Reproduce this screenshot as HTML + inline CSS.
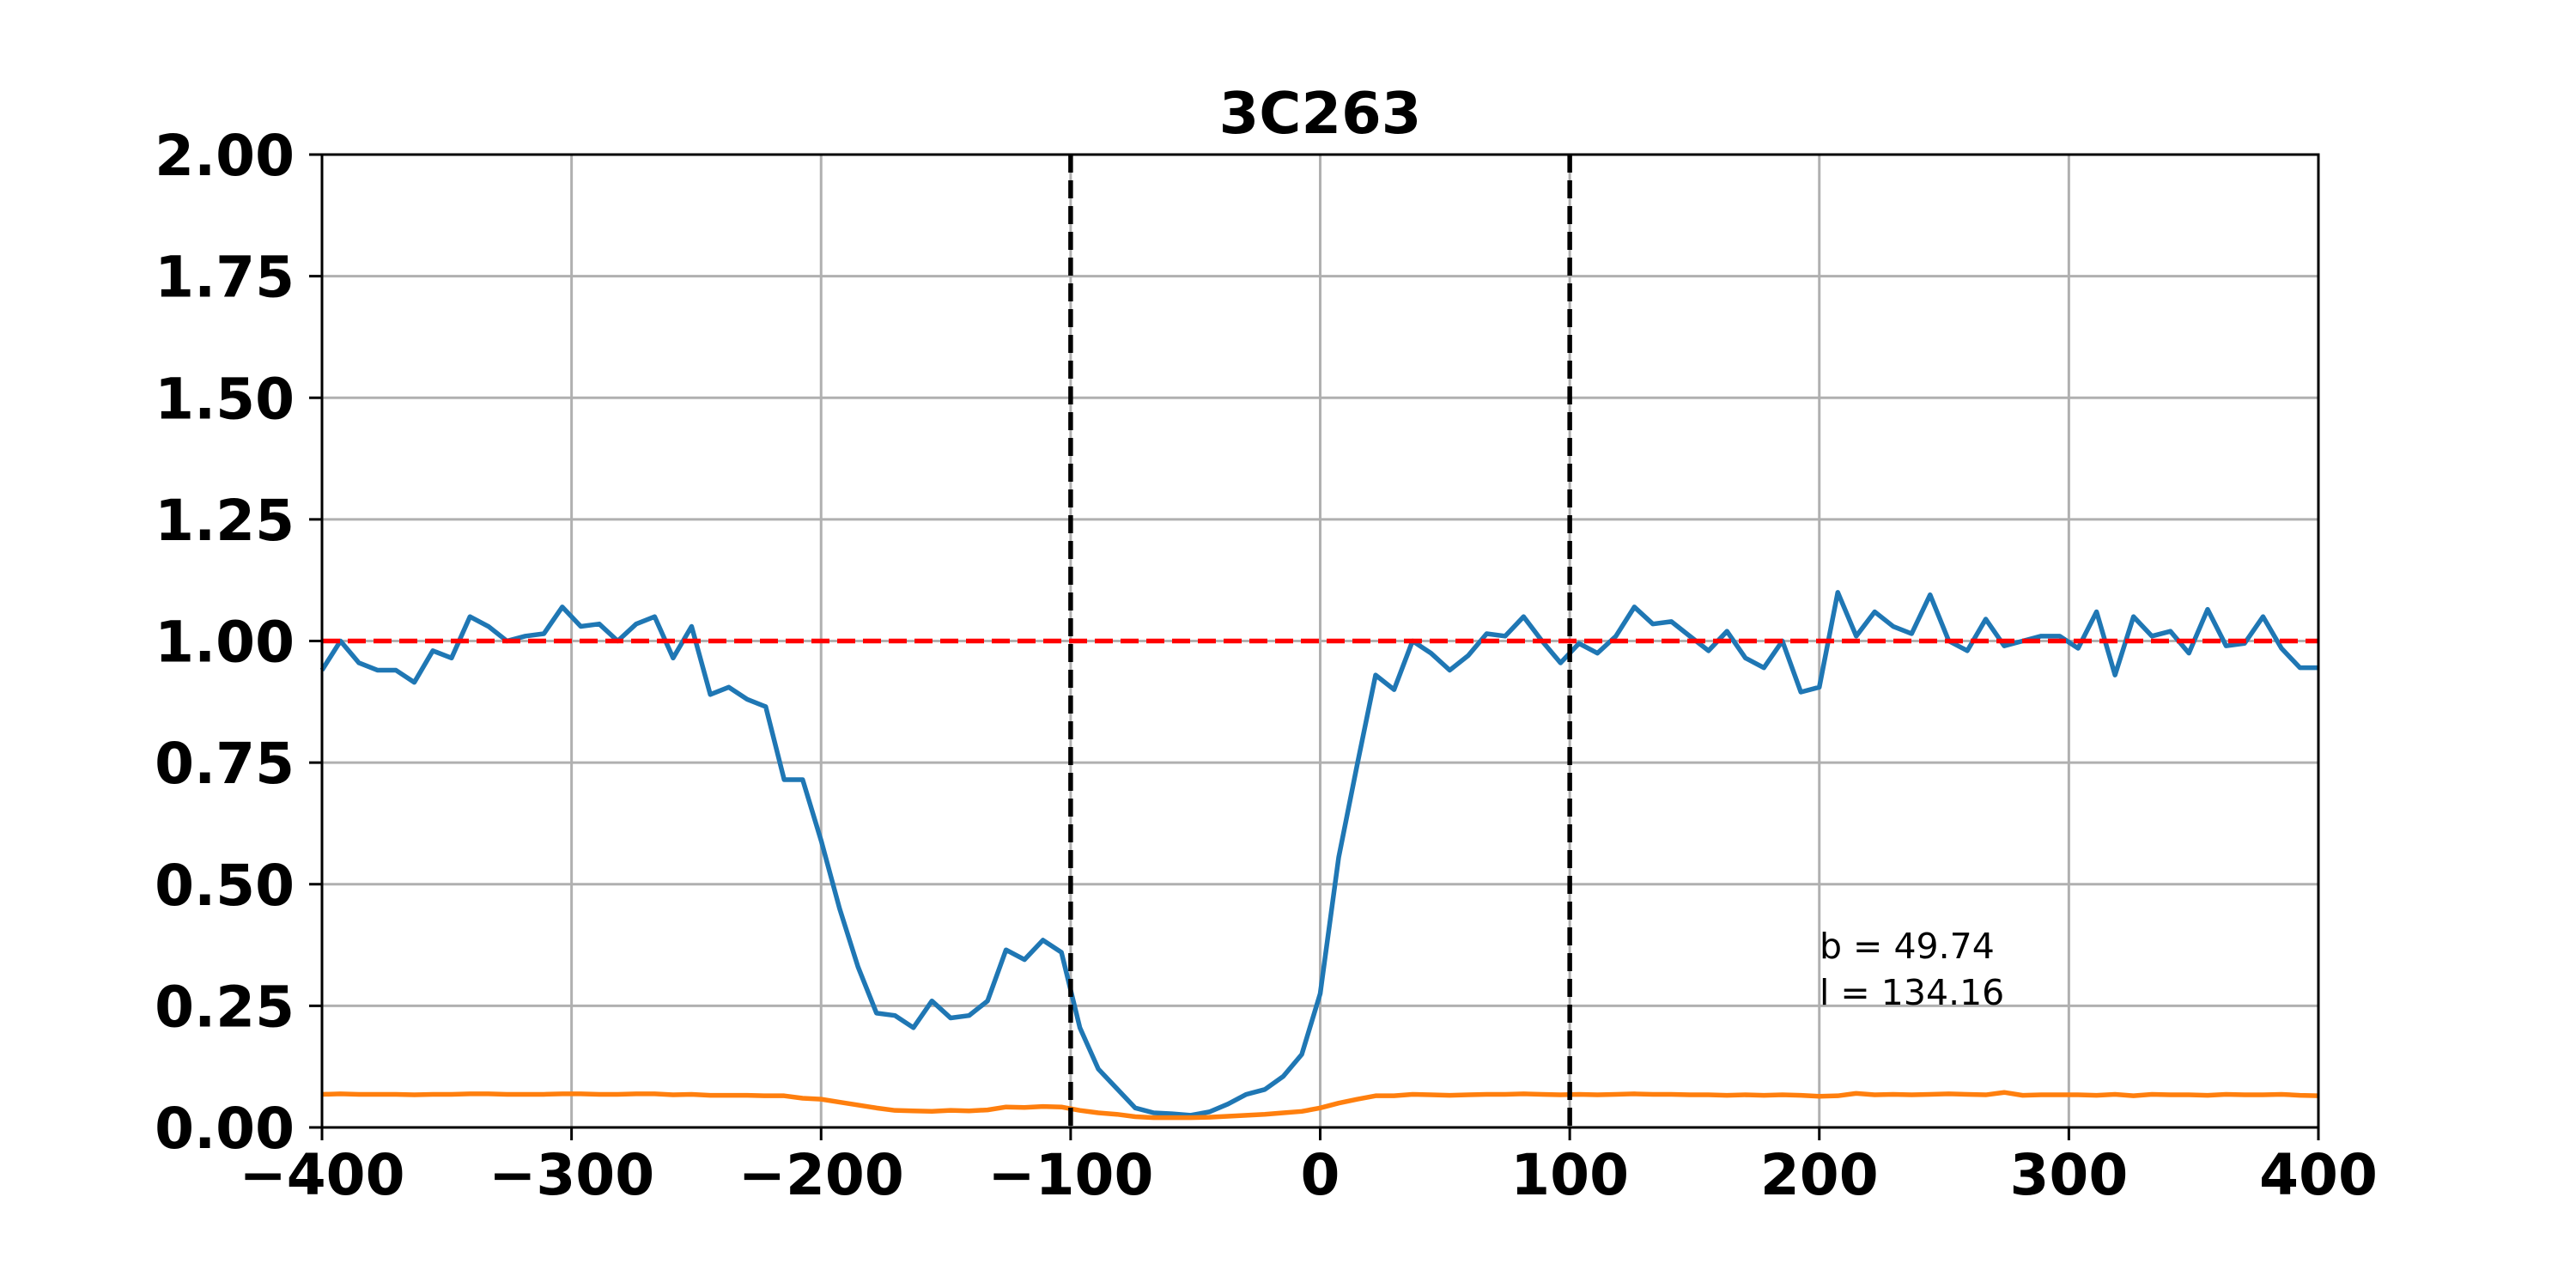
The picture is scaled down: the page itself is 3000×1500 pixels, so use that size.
<!DOCTYPE html>
<html><head><meta charset="utf-8"><style>
html,body{margin:0;padding:0;background:#fff}
svg{display:block}
text{font-family:"DejaVu Sans","Liberation Sans",sans-serif}
</style></head><body>
<svg id="chart" width="3000" height="1500" viewBox="0 0 3000 1500" xmlns="http://www.w3.org/2000/svg">
<rect width="3000" height="1500" fill="#fff"/>
<g id="grid"></g>
<g id="series"></g>
<g id="axes"></g>
<text x="1537.5" y="155" text-anchor="middle" font-size="67" font-weight="bold">3C263</text>
<text x="2119" y="1116" font-size="41">b = 49.74</text>
<text x="2119" y="1170" font-size="41">l = 134.16</text>
</svg>
<script>
const velocities = [-400,-392.6,-385.2,-377.8,-370.4,-363.0,-355.6,-348.1,-340.7,-333.3,-325.9,-318.5,-311.1,-303.7,-296.3,-288.9,-281.5,-274.1,-266.7,-259.3,-251.9,-244.4,-237.0,-229.6,-222.2,-214.8,-207.4,-200.0,-192.6,-185.2,-177.8,-170.4,-163.0,-155.6,-148.1,-140.7,-133.3,-125.9,-118.5,-111.1,-103.7,-96.3,-88.9,-81.5,-74.1,-66.7,-59.3,-51.9,-44.4,-37.0,-29.6,-22.2,-14.8,-7.4,0,7.4,14.8,22.2,29.6,37.0,44.4,51.9,59.3,66.7,74.1,81.5,88.9,96.3,103.7,111.1,118.5,125.9,133.3,140.7,148.1,155.6,163.0,170.4,177.8,185.2,192.6,200.0,207.4,214.8,222.2,229.6,237.0,244.4,251.9,259.3,266.7,274.1,281.5,288.9,296.3,303.7,311.1,318.5,325.9,333.3,340.7,348.1,355.6,363.0,370.4,377.8,385.2,392.6,400];
const fluxValues = [0.94,1.0,0.955,0.94,0.94,0.915,0.98,0.965,1.05,1.03,1.0,1.01,1.015,1.07,1.03,1.035,1.0,1.035,1.05,0.965,1.03,0.89,0.905,0.88,0.865,0.715,0.715,0.59,0.45,0.33,0.235,0.23,0.205,0.26,0.225,0.23,0.26,0.365,0.345,0.385,0.36,0.205,0.12,0.08,0.04,0.03,0.028,0.025,0.032,0.048,0.068,0.078,0.105,0.15,0.275,0.555,0.745,0.93,0.9,1.0,0.975,0.94,0.97,1.015,1.01,1.05,1.0,0.955,0.995,0.975,1.01,1.07,1.035,1.04,1.01,0.98,1.02,0.965,0.945,1.0,0.895,0.905,1.1,1.01,1.06,1.03,1.015,1.095,1.0,0.98,1.045,0.99,1.0,1.01,1.01,0.985,1.06,0.93,1.05,1.01,1.02,0.975,1.065,0.99,0.995,1.05,0.985,0.945,0.945];
const errorValues = [0.068,0.069,0.068,0.068,0.068,0.067,0.068,0.068,0.069,0.069,0.068,0.068,0.068,0.069,0.069,0.068,0.068,0.069,0.069,0.067,0.068,0.066,0.066,0.066,0.065,0.065,0.060,0.058,0.052,0.046,0.040,0.035,0.034,0.033,0.035,0.034,0.036,0.042,0.041,0.043,0.042,0.035,0.030,0.027,0.022,0.020,0.020,0.020,0.021,0.023,0.025,0.027,0.030,0.033,0.040,0.050,0.058,0.065,0.065,0.068,0.067,0.066,0.067,0.068,0.068,0.069,0.068,0.067,0.068,0.067,0.068,0.069,0.068,0.068,0.067,0.067,0.066,0.067,0.066,0.067,0.066,0.064,0.065,0.070,0.067,0.068,0.067,0.068,0.069,0.068,0.067,0.072,0.066,0.067,0.067,0.067,0.066,0.068,0.065,0.068,0.067,0.067,0.066,0.068,0.067,0.067,0.068,0.066,0.065];
const xTicks = [-400,-300,-200,-100,0,100,200,300,400];
const xTickLabels = ["\u2212400","\u2212300","\u2212200","\u2212100","0","100","200","300","400"];
const yTicks = [0,0.25,0.5,0.75,1.0,1.25,1.5,1.75,2.0];
const yTickLabels = ["0.00","0.25","0.50","0.75","1.00","1.25","1.50","1.75","2.00"];
const vLines = [-100,100];
const refLevel = [1.0];

const L=375,R=2700,T=180,B=1313;
const xs=v=>L+(v+400)/800*(R-L);
const ys=v=>B-v/2*(B-T);
const NS='http://www.w3.org/2000/svg';
function mk(tag,attrs,parent){const e=document.createElementNS(NS,tag);for(const k in attrs)e.setAttribute(k,attrs[k]);parent.appendChild(e);return e;}
const grid=document.getElementById('grid'),series=document.getElementById('series'),axes=document.getElementById('axes');

xTicks.forEach((t,i)=>{
  const g=mk('line',{x1:xs(t),x2:xs(t),y1:T,y2:B,stroke:'#b0b0b0','stroke-width':3},grid);
  
  
  const tk=mk('line',{x1:xs(t),x2:xs(t),y1:B,y2:B+15,stroke:'#000','stroke-width':3},axes);
  
  
  const tx=mk('text',{x:xs(t),y:1391,'text-anchor':'middle','font-size':66,'font-weight':'bold'},axes);
  tx.textContent=xTickLabels[i];
  
  
});
yTicks.forEach((t,i)=>{
  const g=mk('line',{x1:L,x2:R,y1:ys(t),y2:ys(t),stroke:'#b0b0b0','stroke-width':3},grid);
  
  
  const tk=mk('line',{x1:L-15,x2:L,y1:ys(t),y2:ys(t),stroke:'#000','stroke-width':3},axes);
  
  
  const tx=mk('text',{x:343,y:ys(t)+24,'text-anchor':'end','font-size':66,'font-weight':'bold'},axes);
  tx.textContent=yTickLabels[i];
  
  
});
const fl=mk('polyline',{points:velocities.map((v,i)=>xs(v)+','+ys(fluxValues[i])).join(' '),fill:'none',stroke:'#1f77b4','stroke-width':5.5,'stroke-linejoin':'round'},series);


const el=mk('polyline',{points:velocities.map((v,i)=>xs(v)+','+ys(errorValues[i])).join(' '),fill:'none',stroke:'#ff7f0e','stroke-width':5.5,'stroke-linejoin':'round'},series);


refLevel.forEach(r=>{
  const l=mk('line',{x1:L,x2:R,y1:ys(r),y2:ys(r),stroke:'#ff0000','stroke-width':5.5,'stroke-dasharray':'21 9'},series);
  
  
});
vLines.forEach(v=>{
  const l=mk('line',{x1:xs(v),x2:xs(v),y1:T,y2:B,stroke:'#000','stroke-width':5.5,'stroke-dasharray':'21 9'},series);
  
  
});
const fr=mk('rect',{x:L,y:T,width:R-L,height:B-T,fill:'none',stroke:'#000','stroke-width':3},axes);


</script>
</body></html>
